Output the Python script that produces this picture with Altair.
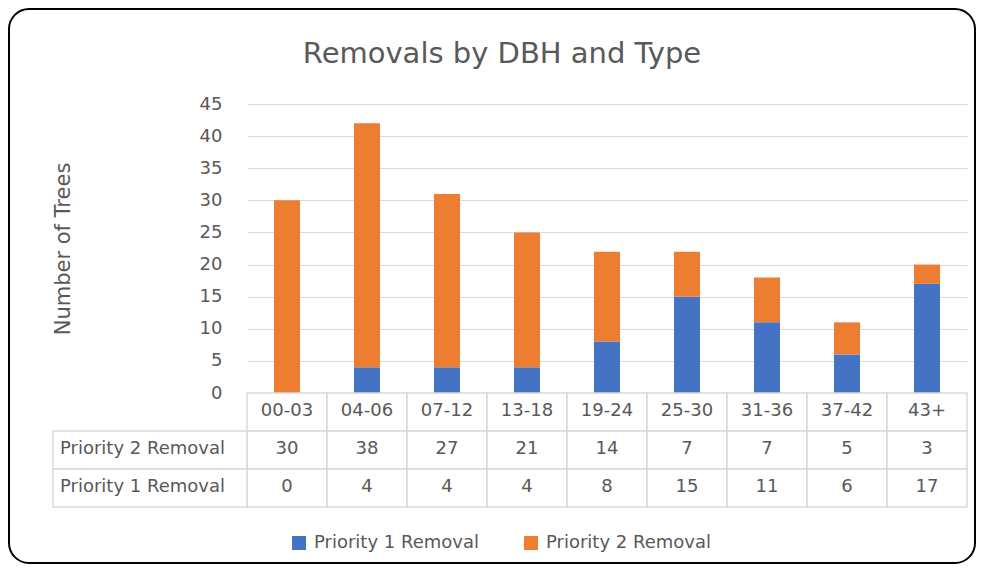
import altair as alt
import pandas as pd

# ---------------- data ----------------
categories = ["00-03", "04-06", "07-12", "13-18", "19-24", "25-30", "31-36", "37-42", "43+"]
priority1 = [0, 4, 4, 4, 8, 15, 11, 6, 17]
priority2 = [30, 38, 27, 21, 14, 7, 7, 5, 3]
series_names = ["Priority 1 Removal", "Priority 2 Removal"]
series_colors = ["#4472C4", "#ED7D31"]
table_rows = ["header", "Priority 2 Removal", "Priority 1 Removal"]
y_ticks = [0, 5, 10, 15, 20, 25, 30, 35, 40, 45]
title_text = "Removals by DBH and Type"
y_title = "Number of Trees"

# ---------------- styling ----------------
FONT = "DejaVu Sans"
GREY = "#595959"
LINE = "#D9D9D9"
W, H = 720, 289
ROW_H = 38

bars_df = pd.DataFrame(
    [
        {"category": c, "series": s, "value": v, "order": i}
        for i, (s, vals) in enumerate(zip(series_names, [priority1, priority2]))
        for c, v in zip(categories, vals)
    ]
)

table_records = [{"category": c, "row": "header", "text": c} for c in categories]
table_records += [{"category": c, "row": "Priority 2 Removal", "text": str(v)} for c, v in zip(categories, priority2)]
table_records += [{"category": c, "row": "Priority 1 Removal", "text": str(v)} for c, v in zip(categories, priority1)]
table_df = pd.DataFrame(table_records)
label_df = pd.DataFrame({"row": table_rows[1:]})

x_enc = alt.X(
    "category:N",
    sort=categories,
    scale=alt.Scale(domain=categories, paddingInner=0, paddingOuter=0),
    axis=None,
)


def row_enc():
    return alt.Y(
        "row:N",
        scale=alt.Scale(type="band", domain=table_rows, range=[H, H + 3 * ROW_H],
                        paddingInner=0, paddingOuter=0),
        axis=None,
    )


border = alt.Chart(alt.Data(values=[{}])).mark_rect(
    fillOpacity=0, stroke="black", strokeWidth=2, cornerRadius=20
).encode(x=alt.value(-238), x2=alt.value(728), y=alt.value(-95), y2=alt.value(459))

bars = alt.Chart(bars_df).mark_bar(width=26).encode(
    x=x_enc,
    y=alt.Y(
        "value:Q",
        stack="zero",
        scale=alt.Scale(domain=[0, 45], nice=False),
        axis=alt.Axis(
            values=y_ticks, title=y_title, grid=True, gridColor=LINE, gridWidth=1,
            domain=False, ticks=False, tickSize=0, labelPadding=25,
            labelFont=FONT, labelFontSize=18, labelColor=GREY,
            titleFont=FONT, titleFontSize=21, titleFontWeight="normal", titleColor=GREY,
            titleX=-184, titleY=H / 2, titleAngle=270, titleBaseline="middle", titleAlign="center",
        ),
    ),
    color=alt.Color(
        "series:N",
        scale=alt.Scale(domain=series_names, range=series_colors),
        legend=alt.Legend(
            title=None, orient="none", legendX=43, legendY=430, direction="horizontal",
            symbolType="square", symbolSize=196, symbolStrokeWidth=0,
            labelFont=FONT, labelFontSize=18, labelColor=GREY, labelOffset=6,
            labelLimit=300, columnPadding=43, padding=0,
        ),
    ),
    order=alt.Order("order:Q"),
)

cells = alt.Chart(table_df).mark_rect(fill="white", stroke=LINE, strokeWidth=1.5).encode(
    x=x_enc, y=row_enc()
)
cell_text = alt.Chart(table_df).mark_text(font=FONT, fontSize=18, color=GREY, dy=-1).encode(
    x=x_enc, y=row_enc(), text="text:N"
)
label_cells = alt.Chart(label_df).mark_rect(fill="white", stroke=LINE, strokeWidth=1.5).encode(
    x=alt.value(-194), x2=alt.value(0), y=row_enc()
)
label_text = alt.Chart(label_df).mark_text(
    font=FONT, fontSize=18, color=GREY, align="left", dy=-1
).encode(x=alt.value(-187), y=row_enc(), text="row:N")

title = alt.Chart(alt.Data(values=[{}])).mark_text(
    text=title_text, font=FONT, fontSize=29, color=GREY, align="center", baseline="alphabetic"
).encode(x=alt.value(255), y=alt.value(-41))

chart = (
    alt.layer(border, bars, cells, cell_text, label_cells, label_text, title)
    .resolve_scale(y="independent")
    .properties(
        width=W,
        height=H,
        autosize=alt.AutoSizeParams(type="none"),
        padding={"left": 239, "top": 96, "right": 10, "bottom": 172},
    )
    .configure_view(stroke=None)
)

chart.save("out.html", embed_options={"renderer": "svg", "actions": False})
